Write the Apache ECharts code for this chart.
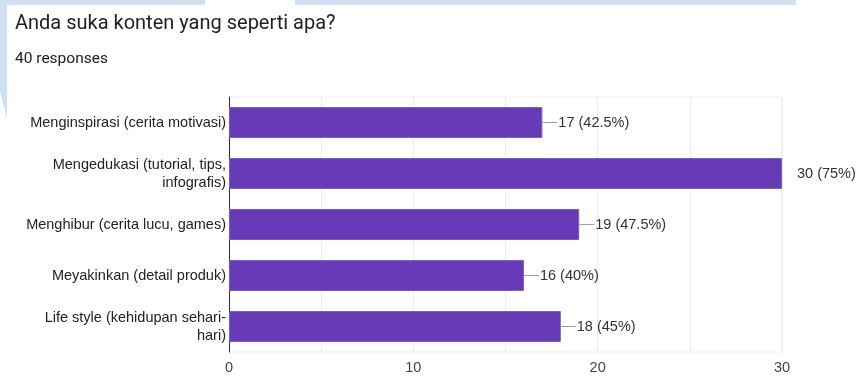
<!DOCTYPE html>
<html>
<head>
<meta charset="utf-8">
<script src="https://cdn.jsdelivr.net/npm/echarts@6/dist/echarts.min.js"></script>
<style>
  html, body { margin: 0; padding: 0; background: #fff; }
  #chart { width: 858px; height: 376px; }
</style>
</head>
<body>
<div id="chart"></div>
<script>
// data
const categories = [
  'Menginspirasi (cerita motivasi)',
  'Mengedukasi (tutorial, tips,\ninfografis)',
  'Menghibur (cerita lucu, games)',
  'Meyakinkan (detail produk)',
  'Life style (kehidupan sehari-\nhari)'
];
const counts = [17, 30, 19, 16, 18];
const totalResponses = 40;
const xTicks = [0, 10, 20, 30];

const chart = echarts.init(document.getElementById('chart'));
const headFont = 'Roboto, Arial, sans-serif';
const font = '"Liberation Sans", Arial, sans-serif';

// label text like "17 (42.5%)"
function pct(v) {
  return v + ' (' + Math.round(v / totalResponses * 1000) / 10 + '%)';
}

const maxVal = Math.max(...counts);

const option = {
  backgroundColor: '#fff',
  title: [
    {
      text: 'Anda suka konten yang seperti apa?',
      left: 15, top: 14, padding: 0,
      textStyle: { fontFamily: headFont, fontSize: 20, fontWeight: 'normal', color: '#202124' }
    },
    {
      text: totalResponses + ' responses',
      left: 15, top: 51, padding: 0,
      textStyle: { fontFamily: headFont, fontSize: 15.5, fontWeight: 'normal', color: '#202124' }
    }
  ],
  // pale blue page decoration behind the card
  graphic: [
    { type: 'rect', shape: { x: 0, y: 0, width: 205, height: 5 }, style: { fill: '#cfe0f0' }, z: -1 },
    { type: 'rect', shape: { x: 295, y: 0, width: 501, height: 5 }, style: { fill: '#cfe0f0' }, z: -1 },
    { type: 'polygon', shape: { points: [[0, 0], [7, 0], [7, 118], [0, 92]] }, style: { fill: '#cfe0f0' }, z: -1 }
  ],
  grid: {
    left: 229, right: 76, top: 97, bottom: 24,
    show: true, borderColor: '#ececec', borderWidth: 1
  },
  xAxis: {
    type: 'value',
    min: 0, max: 30, interval: 5,
    axisLine: { show: false },
    axisTick: { show: false },
    splitLine: { lineStyle: { color: '#ececec' } },
    axisLabel: {
      margin: 8,
      fontFamily: font, fontSize: 14.5, color: '#444',
      formatter: v => xTicks.includes(v) ? String(v) : ''
    }
  },
  yAxis: {
    type: 'category',
    data: categories,
    inverse: true,
    axisTick: { show: false },
    axisLine: { show: true, lineStyle: { color: '#333', width: 1 } },
    axisLabel: {
      margin: 3,
      fontFamily: font, fontSize: 14.5, color: '#222', lineHeight: 18,
      align: 'right'
    }
  },
  series: [{
    type: 'bar',
    barWidth: 31,
    data: counts.map(v => {
      const d = { value: v };
      if (v === maxVal) {
        d.label = { distance: 14, formatter: p => '{t|' + pct(p.value) + '}' };
      }
      return d;
    }),
    itemStyle: { color: '#673ab7', borderColor: '#7b5bc4', borderWidth: 1 },
    label: {
      show: true,
      position: 'right',
      distance: 0,
      formatter: p => '{l|}{t|' + pct(p.value) + '}',
      rich: {
        l: { width: 15, height: 1, backgroundColor: '#9e9e9e', verticalAlign: 'middle' },
        t: { fontFamily: font, fontSize: 14.5, color: '#333', verticalAlign: 'middle', padding: [0, 0, 0, 1] }
      }
    }
  }]
};

chart.setOption(option);
</script>
</body>
</html>
